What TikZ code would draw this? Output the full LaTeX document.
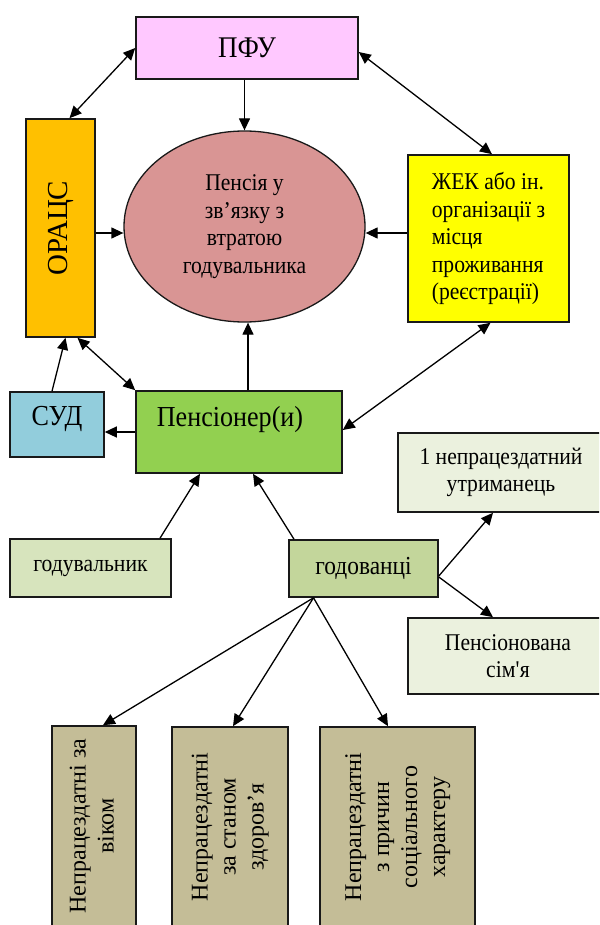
\documentclass[tikz,border=0pt]{standalone}
\usepackage{fontspec}
\setmainfont{Liberation Serif}[Script=Cyrillic]
\newfontfamily\hf{Liberation Serif}[FakeStretch=0.9]
\usetikzlibrary{arrows.meta,shapes.geometric}
\definecolor{cPFU}{HTML}{FFC8FF}
\definecolor{cOr}{HTML}{FFC000}
\definecolor{cEll}{HTML}{D99594}
\definecolor{cZh}{HTML}{FFFF00}
\definecolor{cSud}{HTML}{92CDDC}
\definecolor{cPens}{HTML}{92D050}
\definecolor{cLight}{HTML}{EBF1DE}
\definecolor{cGod}{HTML}{D7E4BD}
\definecolor{cGodov}{HTML}{C3D69B}
\definecolor{cBot}{HTML}{C4BD97}
\newcommand{\fsz}[2]{\fontsize{#1}{#2}\selectfont}
\tikzset{
 box/.style={draw=black!90, line width=1.6pt, rectangle, inner sep=0pt},
 arr/.style={line width=1.3pt, -{Triangle[length=12pt,width=11pt]}},
 darr/.style={line width=1.3pt, {Triangle[length=12pt,width=11pt]}-{Triangle[length=12pt,width=11pt]}},
}
\begin{document}
\begin{tikzpicture}[x=1pt,y=-1pt]
\useasboundingbox (0,0) rectangle (599,925);
\clip (0,0) rectangle (599,925);
\fill[white] (0,0) rectangle (599,925);

\node[box, fill=cPFU, minimum width=222pt, minimum height=62pt, font=\hf\fsz{30}{33}] (pfu) at (247,48) {ПФУ};
\node[box, fill=cOr, minimum width=69pt, minimum height=218pt] (orats) at (60.5,228) {\rotatebox{90}{\fsz{29}{33}ОРАЦС}};
\node[ellipse, draw=black!90, line width=1.3pt, fill=cEll, minimum width=241pt, minimum height=191pt, inner sep=0pt, align=center, font=\hf\fsz{24}{27.5}] (ell) at (244.5,226.5) {Пенсія у\\зв’язку з\\втратою\\годувальника};
\node[box, fill=cZh, minimum width=161pt, minimum height=167pt, align=left, font=\hf\fsz{24}{27.5}] (zhek) at (488.5,238.5) {ЖЕК або ін.\\організації з\\місця\\проживання\\(реєстрації)};
\node[box, fill=cSud, minimum width=94pt, minimum height=65pt, label={[name=sudl, font=\hf\fsz{29}{33}, yshift=6pt]center:СУД}] (sud) at (57,424.5) {};
\node[box, fill=cPens, minimum width=206pt, minimum height=82pt, label={[name=pensl, font=\hf\fsz{29}{33}, xshift=-9pt, yshift=12pt]center:Пенсіонер(и)}] (pens) at (239,432) {};
\node[box, fill=cLight, minimum width=206pt, minimum height=79pt, align=center, font=\hf\fsz{24}{27.5}] (utr) at (501,472.5) {1 непрацездатний\\утриманець};
\node[box, fill=cGod, minimum width=161pt, minimum height=58pt, font=\hf\fsz{24}{27.5}] (god) at (90.5,568) {годувальник};
\node[box, fill=cGodov, minimum width=149pt, minimum height=57pt, font=\hf\fsz{26}{30}] (godov) at (363.5,568.5) {годованці};
\node[box, fill=cLight, minimum width=200pt, minimum height=76pt, align=center, font=\hf\fsz{24}{27.5}] (sim) at (508,656) {Пенсіонована\\сім\textquotesingle я};

\node[box, fill=cBot, minimum width=84pt, minimum height=200pt] (b1) at (94,826) {\rotatebox{90}{\fsz{24}{28}\begin{tabular}{@{}c@{}}Непрацездатні за\\віком\end{tabular}}};
\node[box, fill=cBot, minimum width=116pt, minimum height=200pt] (b2) at (230,827) {\rotatebox{90}{\fsz{24}{28}\begin{tabular}{@{}c@{}}Непрацездатні\\за станом\\здоров’я\end{tabular}}};
\node[box, fill=cBot, minimum width=155pt, minimum height=200pt] (b3) at (397.5,827) {\rotatebox{90}{\fsz{24}{28}\begin{tabular}{@{}c@{}}Непрацездатні\\з причин\\соціального\\характеру\end{tabular}}};

% connectors
\draw[darr] (pfu.west) -- ([xshift=9pt]orats.north);
\draw[arr] (pfu.south -| ell.north) -- (ell.north);
\draw[darr] ([yshift=-4pt]pfu.east) -- ([xshift=3.5pt]zhek.north);
\coordinate (ow) at ([yshift=-5pt]orats.east);
\draw[arr] (ow) -- (ell.west |- ow);
\coordinate (zw) at ([yshift=5.5pt]zhek.west);
\draw[arr] (zw) -- (ell.east |- zw);
\coordinate (pn) at ([xshift=9pt]pens.north);
\draw[arr] (pn) -- (pn |- ell.south);
\draw[arr] ([xshift=-5pt]sud.north) -- ([xshift=5pt]orats.south);
\draw[darr] ([xshift=17pt]orats.south) -- (pens.north west);
\draw[darr] ([yshift=2pt]pens.east) -- ([xshift=2pt]zhek.south);
\draw[arr] (pens.west) -- (sud.east |- pens.west);
\draw[arr] ([xshift=69.5pt]god.north) -- ([xshift=-39pt]pens.south);
\draw[arr] ([xshift=-69.5pt]godov.north) -- ([xshift=14pt]pens.south);
\draw[arr] ([yshift=-7.5pt]godov.east) -- ([xshift=-8pt]utr.south);
\draw[arr] ([yshift=-8.5pt]godov.east) -- ([xshift=-15pt]sim.north);
\coordinate (gs) at ([xshift=-50pt]godov.south);
\draw[arr] (gs) -- ([xshift=9pt]b1.north);
\draw[arr] (gs) -- ([xshift=3pt]b2.north);
\draw[arr] (gs) -- ([xshift=-9.5pt]b3.north);
\end{tikzpicture}
\end{document}
